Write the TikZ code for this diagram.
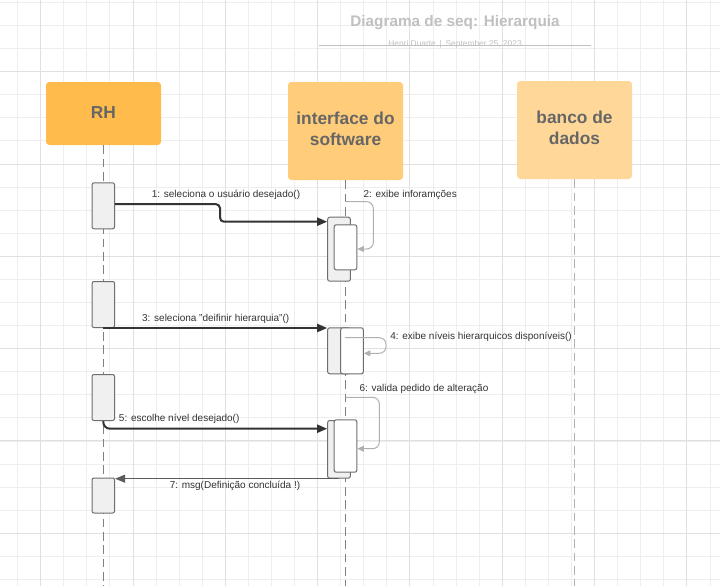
\documentclass[tikz,border=0pt]{standalone}
\usepackage{fontspec}
\setmainfont{Liberation Sans}
\usetikzlibrary{calc,positioning,arrows.meta}
\newdimen\pxu \pxu=0.75pt

\definecolor{gridminor}{RGB}{238,238,238}
\definecolor{gridmajor}{RGB}{224,224,224}
\definecolor{rhfill}{RGB}{255,188,77}
\definecolor{ifacefill}{RGB}{255,204,122}
\definecolor{bancofill}{RGB}{255,216,153}
\definecolor{headtext}{RGB}{102,102,102}
\definecolor{actfill}{RGB}{240,240,240}
\definecolor{actdraw}{RGB}{110,110,110}
\definecolor{msgline}{RGB}{51,51,51}
\definecolor{selfline}{RGB}{176,176,176}
\definecolor{titlegray}{RGB}{192,192,192}

\begin{document}
\begin{tikzpicture}[x=0.75pt,y=-0.75pt,
  minor/.style={color=gridminor,line width=0.75pt},
  major/.style={color=gridmajor,line width=0.75pt},
  head/.style={rectangle,rounded corners=2.5pt,minimum width=115\pxu,text=headtext,
    font=\fontsize{13}{15.75}\selectfont\bfseries,align=center,inner sep=0pt,text depth=3pt},
  act/.style={rectangle,draw=actdraw,fill=actfill,rounded corners=1.5pt,
    minimum width=22.6\pxu,inner sep=0pt,anchor=north,line width=0.75pt},
  actw/.style={act,fill=white},
  lifeline/.style={draw=gray,line width=0.75pt,dash pattern=on 6.5pt off 3.5pt},
  msg/.style={draw=msgline,line width=1.5pt,-{Triangle[length=7.5pt,width=6pt]}},
  ret/.style={draw=msgline!80,line width=0.75pt,-{Triangle[length=7.5pt,width=6pt]}},
  self/.style={draw=selfline,line width=0.75pt,rounded corners=5pt,-{Triangle[length=5pt,width=4.5pt]}},
  lbl/.style={text=msgline,font=\fontsize{7.5}{9}\selectfont,inner sep=0pt},
  ]

  \useasboundingbox[fill=white] (0,0) rectangle (720,586);

  % grid
  \foreach \i in {0,...,30} \draw[minor] ({17.6+23.08*\i},0) -- ++(0,586);
  \foreach \i in {0,...,25} \draw[minor] (0,{2.5+23.08*\i}) -- ++(720,0);
  \foreach \i in {0,...,7} \draw[major] ({40.7+92.3*\i},0) -- ++(0,586);
  \foreach \i in {0,...,6} \draw[major] (0,{-20.6+92.3*\i}) -- ++(720,0);

  \node (title) [text=titlegray,font=\fontsize{11.5}{14}\selectfont\bfseries] at (455,22.7) {Diagrama de seq: Hierarquia};
  \draw[titlegray,line width=0.75pt] (319,45.5) -- (591,45.5);
  \node (sub) [text=titlegray,font=\fontsize{6.3}{7.5}\selectfont] at (455,44.5) {Henri Duarte \,|\, September 25, 2023};

  \node (rh) [head,fill=rhfill,minimum height=63\pxu,text depth=1.5pt] at (103.5,113.5) {RH};
  \node (iface) [head,fill=ifacefill,minimum height=98\pxu] at (345.5,131) {interface do\\software};
  \node (banco) [head,fill=bancofill,minimum height=98\pxu] at (574.5,130) {banco de\\dados};

  \coordinate (bottom) at (0,586);
  \foreach \n in {rh,iface}
  \draw[lifeline] (\n.south) -- (\n.south |- bottom);
  \draw[lifeline,draw=gray!60] (banco.south) -- (banco.south |- bottom);

  \foreach \n/\y/\h in {a1/182.3/46,a2/281/46,a3/374/46,a4/477.5/35}
  \node (\n) [act,minimum height=\h\pxu] at (103.3,\y) {};

  \node (i1) [act,minimum height=64\pxu] at (339,216.7) {};
  \node (j1) [actw,minimum height=45\pxu] at (345.5,224.3) {};
  \node (i2) [act,minimum height=46\pxu] at (339,327.3) {};
  \node (j2) [actw,minimum height=46\pxu] at (352,327.3) {};
  \node (i3) [act,minimum height=57.7\pxu] at (339,420) {};
  \node (j3) [actw,minimum height=52.4\pxu] at (345.5,419.3) {};

  \coordinate (m1) at (220,221.7);
  \draw[msg,rounded corners=3pt] ([yshift=1.2pt]a1.east) -| (m1) -- (m1 -| i1.west);
  \node (l1) [lbl] at (226,195) {1: seleciona o usuário desejado()};

  \coordinate (s2a) at (345.7,201.7);
  \coordinate (s2b) at (373.3,249);
  \draw[self] (s2a) -| (s2b) -- (s2b -| j1.east);
  \node (l2) [lbl,anchor=west] at (363.3,195) {2: exibe inforamções};

  \draw[msg] (a2.south) -- (a2.south -| i2.west);
  \node (l3) [lbl] at (215.7,318.7) {3: seleciona "deifinir hierarquia"()};

  \coordinate (s4a) at (345,337.7);
  \coordinate (s4b) at (386,353.3);
  \draw[self] (s4a) -| (s4b) -- (s4b -| j2.east);
  \node (l4) [lbl,anchor=west] at (390,336.7) {4: exibe níveis hierarquicos disponíveis()};

  \coordinate (m5) at (0,428.7);
  \draw[msg,rounded corners=5pt] (a3.south) |- (m5 -| i3.west);
  \node (l5) [lbl,anchor=west] at (118.7,419.3) {5: escolhe nível desejado()};

  \coordinate (s6a) at (345.7,397.3);
  \coordinate (s6b) at (379.3,448.7);
  \draw[self] (s6a) -| (s6b) -- (s6b -| j3.east);
  \node (l6) [lbl,anchor=west] at (359.3,388.5) {6: valida pedido de alteração};

  \draw[ret] (i3.south) -- (i3.south -| a4.east);
  \node (l7) [lbl] at (235,486) {7: msg(Definição concluída !)};

\end{tikzpicture}
\end{document}
